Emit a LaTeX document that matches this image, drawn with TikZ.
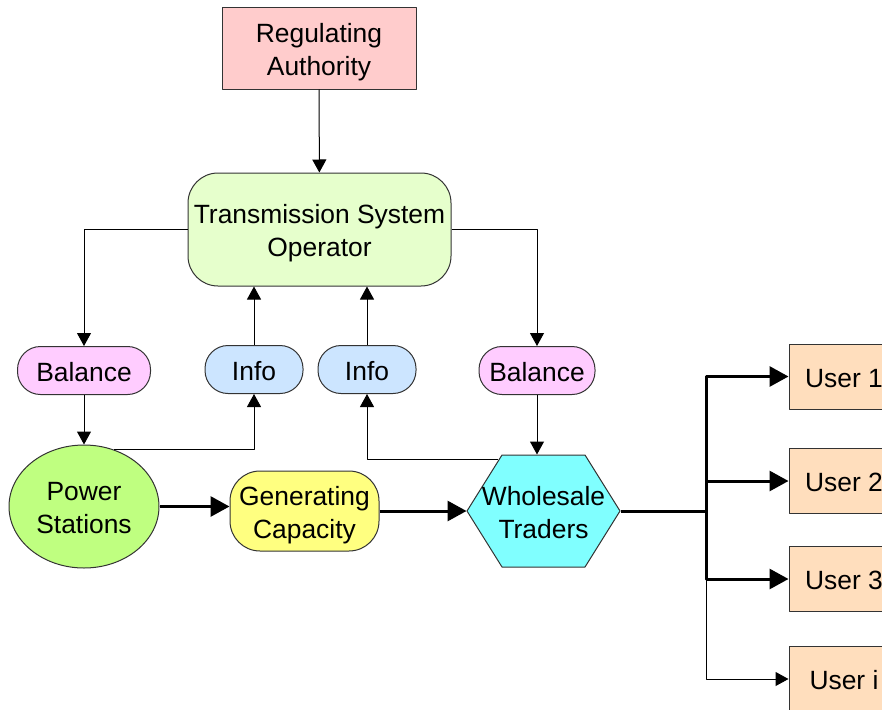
\documentclass[tikz,border=0pt]{standalone}
\usepackage{fontspec}
\setmainfont{Liberation Sans}
\usetikzlibrary{arrows.meta,shapes.geometric,calc}
\definecolor{rapink}{HTML}{FFCCCC}
\definecolor{tsogreen}{HTML}{E6FFCC}
\definecolor{balpink}{HTML}{FFCCFF}
\definecolor{infoblue}{HTML}{CCE5FF}
\definecolor{psgreen}{HTML}{BFFF80}
\definecolor{gcyellow}{HTML}{FFFF80}
\definecolor{wtcyan}{HTML}{80FFFF}
\definecolor{userpeach}{HTML}{FFDEBD}
\newcommand{\boxtext}[1]{\rule{0pt}{27.5pt}#1\rule[-6pt]{0pt}{6pt}}
\begin{document}
\begin{tikzpicture}[x=1pt, y=-1pt, font=\fontsize{26.4}{33}\selectfont, line join=round,
		>={Triangle[length=13pt,width=14pt]},
		box/.style={draw=black!80, line width=1pt, align=center, inner sep=0pt},
		pill/.style={box, rounded corners=23pt, minimum height=48pt},
		link/.style={line width=1pt, ->},
		flow/.style={line width=3pt, -{Triangle[length=19pt,width=20pt]}}]
	\useasboundingbox (0,0) rectangle (882,709);
	\node[box, fill=rapink, minimum width=194pt, minimum height=81pt] (ra) at (319,48.5) {\boxtext{Regulating\\Authority}};
	\node[box, fill=tsogreen, rounded corners=30pt, minimum width=263pt, minimum height=113pt] (tso) at (319.5,229.5) {\boxtext{Transmission System\\Operator}};
	\node[pill, fill=balpink, minimum width=133pt] (bal1) at (84,370.5) {\boxtext{Balance}};
	\node[pill, fill=infoblue, minimum width=98pt] (info1) at (254,369.5) {\boxtext{Info}};
	\node[pill, fill=infoblue, minimum width=98pt] (info2) at (367,369.5) {\boxtext{Info}};
	\node[pill, fill=balpink, minimum width=116pt] (bal2) at (537,370.5) {\boxtext{Balance}};
	\node[box, ellipse, fill=psgreen, minimum width=150pt, minimum height=123pt] (ps) at (84,506.5) {\boxtext{Power\\Stations}};
	\node[box, fill=gcyellow, rounded corners=30pt, minimum width=149pt, minimum height=80pt] (gc) at (304.5,511) {\boxtext{Generating\\Capacity}};
	\coordinate (wtc) at (543.5,511);
	\filldraw[draw=black!80, line width=1pt, fill=wtcyan] ($(wtc)+(-76.5,0)$) -- ++(35,-56) -- ++(83,0) -- ++(35,56) -- ++(-35,56) -- ++(-83,0) -- cycle;
	\node[box, draw=none, minimum width=153pt, minimum height=112pt] (wt) at (wtc) {\boxtext{Wholesale\\Traders}};
	\foreach \name/\y/\txt in {u1/376.5/User 1, u2/481/User 2, u3/579/User 3, ui/679/User i}
		\node[box, fill=userpeach, minimum width=110pt, minimum height=65pt] (\name) at (844,\y) {\boxtext{\txt}};
	\draw[link] (ra) -- (tso);
	\draw[link] (tso.west) -| (bal1.north);
	\draw[link] (tso.east) -| (bal2.north);
	\draw[link] (info1.north) -- (info1.north |- tso.south);
	\draw[link] (info2.north) -- (info2.north |- tso.south);
	\draw[link] (bal1) -- (ps);
	\draw[link] (ps.62) -| (info1.south);
	\coordinate (wtedge) at ($(wt.west)!0.91!([xshift=35pt]wt.north west)$);
	\draw[link] (wtedge) -| (info2.south);
	\draw[link] (bal2.south) -- (bal2.south |- wt.north);
	\draw[flow] (ps.east) -- (ps.east -| gc.west);
	\draw[flow] (gc) -- (wt);
	\coordinate (split) at (706,511);
	\draw[link] (split) |- (ui);
	\draw[flow] (wt.east) -- (split) |- (u1);
	\draw[flow] (split) |- (u2);
	\draw[flow] (split) |- (u3);
\end{tikzpicture}
\end{document}
